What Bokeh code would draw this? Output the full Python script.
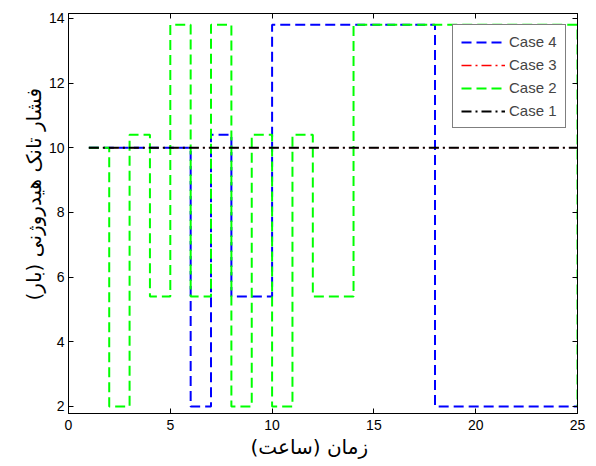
import numpy as np
from bokeh.plotting import figure
from bokeh.models import LinearAxis, FixedTicker, Legend, LegendItem, Range1d, Title
from bokeh.embed import file_html
from bokeh.resources import INLINE

# ---- data ----
x_ticks = [0, 5, 10, 15, 20, 25]
y_ticks = [2, 4, 6, 8, 10, 12, 14]

case4_t = [1, 6, 7, 8, 10, 18, 25]
case4_p = [10, 2, 10.4, 5.4, 13.8, 2, 2]

case3_t = [1, 25]
case3_p = [10, 10]

case2_t = [1, 2, 3, 4, 5, 6, 7, 8, 9, 10, 11, 12, 14, 25]
case2_p = [10, 2, 10.4, 5.4, 13.8, 5.4, 13.8, 2, 10.4, 2, 10.4, 5.4, 13.8, 2]

case1_t = [1, 25]
case1_p = [10, 10]

x_label = "زمان (ساعت)"
y_label = "فشار تانک هیدروژنی (بار)"

# ---- figure ----
p = figure(width=596, height=466, output_backend="svg", toolbar_location=None,
           x_range=Range1d(0, 25), y_range=Range1d(1.78, 14.15),
           min_border_left=68, min_border_right=19, min_border_top=13, min_border_bottom=53)
p.grid.visible = False
p.outline_line_color = "black"
p.background_fill_color = "white"
p.border_fill_color = "white"

tick_font = "Liberation Sans"
for ax in (p.xaxis[0], p.yaxis[0]):
    ax.major_tick_in = 5
    ax.major_tick_out = 0
    ax.minor_tick_line_color = None
    ax.axis_line_color = "black"
    ax.major_tick_line_color = "black"
    ax.major_label_text_font = tick_font
    ax.major_label_text_font_size = "14px"
    ax.major_label_text_color = "black"
p.xaxis[0].ticker = FixedTicker(ticks=x_ticks)
p.yaxis[0].ticker = FixedTicker(ticks=y_ticks)
p.xaxis[0].major_label_standoff = 6
p.yaxis[0].major_label_standoff = 4

top = LinearAxis(ticker=FixedTicker(ticks=x_ticks), major_label_text_font_size="1px",
                 major_label_text_color=None,
                 major_tick_in=5, major_tick_out=0, minor_tick_line_color=None,
                 axis_line_color="black", major_label_standoff=0)
right = LinearAxis(ticker=FixedTicker(ticks=y_ticks), major_label_text_font_size="1px",
                   major_label_text_color=None,
                   major_tick_in=5, major_tick_out=0, minor_tick_line_color=None,
                   axis_line_color="black", major_label_standoff=0)
p.add_layout(top, "above")
p.add_layout(right, "right")

r4 = p.step(case4_t, case4_p, mode="after", line_color="#0000ff", line_width=2, line_dash="10 5")
r3 = p.step(case3_t, case3_p, mode="after", line_color="#ff0000", line_width=1.3, line_dash="10 4 2 4")
r2 = p.step(case2_t, case2_p, mode="after", line_color="#00ff00", line_width=2, line_dash="10 5")
r1 = p.step(case1_t, case1_p, mode="after", line_color="#000000", line_width=2, line_dash="10 4 2 4")

legend = Legend(items=[LegendItem(label="Case 4", renderers=[r4]),
                       LegendItem(label="Case 3", renderers=[r3]),
                       LegendItem(label="Case 2", renderers=[r2]),
                       LegendItem(label="Case 1", renderers=[r1])],
                location=(384, 285), glyph_width=44, glyph_height=16, label_height=16,
                spacing=6, padding=8, label_standoff=4,
                label_text_font=tick_font, label_text_font_size="15px",
                border_line_color="black", border_line_width=1,
                background_fill_color="white", background_fill_alpha=1.0)
p.add_layout(legend)

p.add_layout(Title(text=x_label, align="left", offset=182, text_font="DejaVu Sans",
                   text_font_size="20px", text_font_style="normal", text_color="black",
                   standoff=0), "below")
p.add_layout(Title(text=y_label, align="left", offset=113, text_font="DejaVu Sans",
                   text_font_size="20px", text_font_style="normal", text_color="black",
                   standoff=0), "left")

open("out.html", "w").write(file_html(p, INLINE))
